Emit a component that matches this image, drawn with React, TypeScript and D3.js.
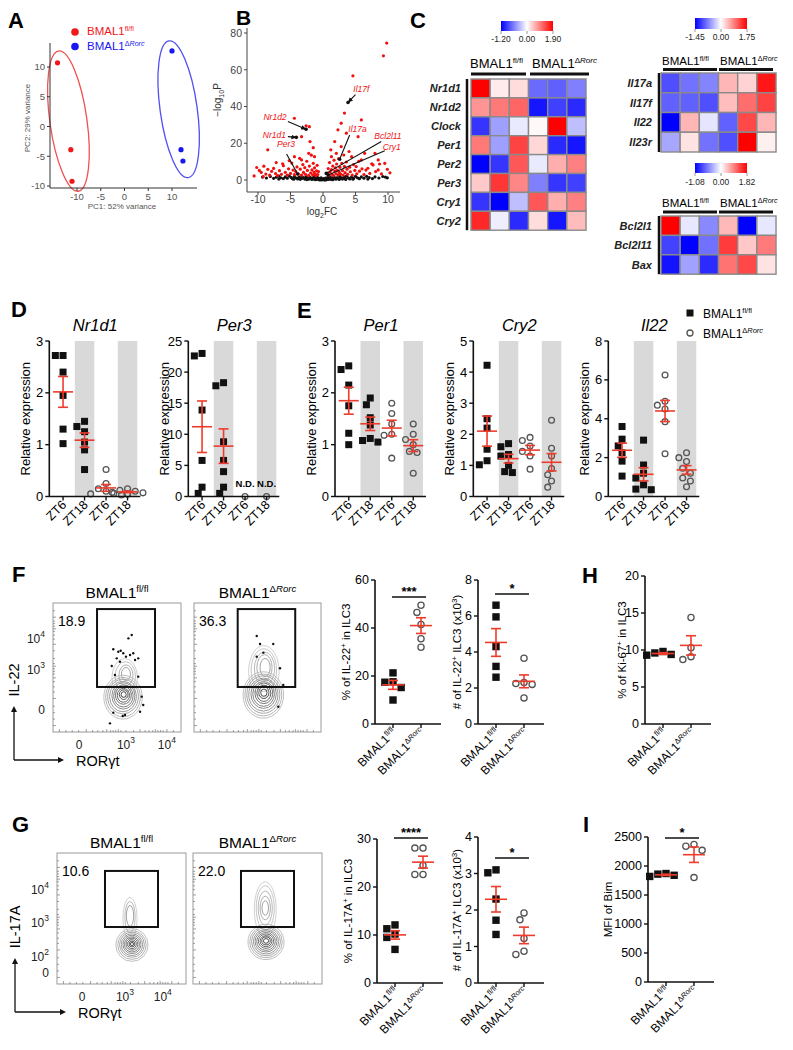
import React from "react";
import * as d3 from "d3";

const FONT = "Arial, 'Liberation Sans', Helvetica, sans-serif";
const RED = "#ee3b2b";
const BAND = "#d9d9d9";

/* ---------- A: PCA ---------- */
const pcaFl = [[-14.1, 10.7], [-11.3, -3.9], [-11.05, -9.2]];
const pcaKo = [[10.0, 12.7], [11.9, -3.9], [12.3, -5.8]];
const pcaTicks = [-10, -5, 0, 5, 10];
const pcaEllFl = [-11.8, 0.9, 3.9, 11.9];
const pcaEllKo = [11.4, 2.9, 3.9, 11.6];

/* ---------- B: volcano ---------- */
const volcanoRed = [
  [-10.2, 6.8], [-9.8, 5.2], [-9.5, 4.1], [-9.1, 7.5], [-8.8, 3.2], [-8.5, 5.8], [-8.2, 2.6], [-7.9, 4.7], [-7.6, 6.3], [-7.3, 3.5],
  [-7, 2.4], [-6.7, 5.1], [-6.4, 3.1], [-6.1, 7.8], [-5.8, 4.2], [-5.5, 2.7], [-5.3, 6.1], [-5, 3.6], [-4.8, 9.2], [-4.6, 5.4],
  [-4.4, 2.9], [-4.2, 4.6], [-4, 7.1], [-3.8, 3.3], [-3.6, 11.8], [-3.5, 5.9], [-3.3, 2.6], [-3.1, 8.4], [-3, 4.1], [-2.8, 6.7],
  [-2.7, 3.1], [-2.5, 10.2], [-2.4, 5.2], [-2.2, 2.5], [-2.1, 7.6], [-1.9, 3.8], [-1.8, 13.5], [-1.7, 5.5], [-1.6, 2.8], [-1.5, 9.1],
  [-1.4, 4.3], [-1.3, 6.6], [-1.2, 3.4], [-1.1, 2.4], [-1.0, 5.0], [-0.9, 8.0], [-0.8, 3.0], [-0.7, 4.6],
  [-8.5, 16.4], [-4.4, 33.6], [-2.6, 29.5], [-2.1, 29.0], [-3.3, 23.6], [-2.0, 20.9], [-4.4, 12.7], [-3.3, 10.9], [-1.3, 12.7],
  [-2.2, 14.5], [-1.5, 17.6], [-5.2, 10.5], [-6.2, 8.8], [-7.2, 9.5], [-10.6, 2.2], [-9.2, 1.8],
  [0.7, 3.8], [0.8, 6.2], [0.9, 2.6], [1.0, 9.5], [1.1, 4.4], [1.2, 16.4], [1.3, 12.7], [1.3, 5.6], [1.4, 3.1], [1.5, 7.6],
  [1.6, 2.4], [1.7, 10.8], [1.8, 4.9], [1.8, 20.9], [1.9, 6.6], [2.0, 3.4], [2.05, 14.5], [2.1, 8.7], [2.2, 5.3], [2.3, 27.3],
  [2.3, 2.8], [2.4, 11.6], [2.5, 4.2], [2.6, 6.9], [2.7, 3.2], [2.8, 18.2], [2.8, 30.9], [2.9, 9.1], [3.0, 5.1], [3.1, 2.6],
  [3.2, 13.6], [3.3, 36.4], [3.3, 7.4], [3.4, 4.0], [3.6, 25.5], [3.6, 9.8], [3.7, 5.9], [3.8, 3.1], [4.0, 15.5], [4.1, 7.0],
  [4.2, 4.5], [4.4, 12.7], [4.5, 2.7], [4.6, 56.7], [4.7, 8.4], [4.9, 5.2], [5.1, 7.3], [5.2, 3.4], [5.4, 23.6], [5.5, 10.2],
  [5.6, 4.8], [5.9, 10.9], [5.9, 32.7], [6.0, 6.1], [6.3, 3.0], [6.4, 14.5], [6.6, 5.4], [6.9, 6.4], [7.2, 3.6], [7.5, 8.8],
  [7.7, 8.2], [8.0, 14.5], [8.1, 4.6], [8.5, 5.5], [8.5, 10.9], [8.7, 8.7], [9.0, 3.3], [9.3, 67.6], [9.5, 9.1], [9.8, 74.5],
  [9.9, 5.8], [10.3, 3.9]
];
const volcanoBlack = [
  [-9.3, 1.6], [-8.7, 1.1], [-8.1, 1.9], [-7.6, 0.9], [-7.2, 1.5], [-6.8, 2.1], [-6.5, 1.2], [-6.1, 0.8], [-5.8, 1.7], [-5.5, 1.0],
  [-5.2, 2.2], [-4.9, 1.4], [-4.7, 0.7], [-4.4, 1.8], [-4.1, 1.1], [-3.9, 0.6], [-3.7, 1.5], [-3.4, 2.0], [-3.2, 0.9], [-3.0, 1.3],
  [-2.8, 0.5], [-2.6, 1.7], [-2.4, 1.0], [-2.2, 0.4], [-2.0, 1.4], [-1.9, 0.8], [-1.7, 0.3], [-1.6, 1.2], [-1.4, 0.6], [-1.3, 1.9],
  [-1.1, 0.9], [-1.0, 0.3], [-0.9, 1.5], [-0.8, 0.6], [-0.7, 1.1], [-0.6, 0.2], [-0.5, 0.8], [-0.4, 0.4], [-0.3, 1.2], [-0.2, 0.1],
  [-0.1, 0.5], [0, 0.2], [0.1, 0.7], [0.2, 0.1], [0.3, 0.4], [0.4, 1.0], [0.5, 0.2], [0.6, 0.6], [0.7, 1.3], [0.8, 0.3],
  [0.9, 0.9], [1.0, 0.5], [1.1, 1.6], [1.2, 0.7], [1.3, 0.3], [1.4, 1.1], [1.6, 0.6], [1.7, 1.8], [1.9, 0.9], [2.0, 0.4],
  [2.2, 1.3], [2.4, 0.7], [2.6, 1.9], [2.8, 1.0], [3.0, 0.5], [3.2, 1.5], [3.4, 0.8], [3.6, 2.1], [3.9, 1.2], [4.1, 0.6],
  [4.4, 1.6], [4.7, 0.9], [5.0, 2.0], [5.3, 1.2], [5.6, 0.7], [5.9, 1.7], [6.3, 1.0], [6.7, 2.0], [7.1, 1.3], [7.6, 0.8],
  [8.0, 1.7], [8.6, 1.1], [9.2, 1.9], [9.6, 1.6], [9.9, 1.2], [-0.45, 0.05], [0.35, 0.05], [-1.2, 0.15], [1.5, 0.2], [-2.5, 0.25],
  [2.5, 0.3], [-3.5, 0.35], [3.5, 0.3], [-4.5, 0.4], [4.6, 0.4], [-6.8, 0.5], [6.9, 0.5]
];
const volcanoXTicks = [-10, -5, 0, 5, 10];
const volcanoYTicks = [0, 20, 40, 60, 80];
const volcanoGenes = ["Il17f", "Nr1d2", "Nr1d1", "Per3", "Il17a", "Bcl2l11", "Cry1"];
const volcanoGenePts = [[3.85, 42.2], [-2.6, 27.6], [-4.1, 23.2], [-3.9, 3.3], [2.56, 11.3], [0.5, 3.6], [0.8, 2.7]];
const volcanoLabelPts = [[4.66, 48.0], [-5.6, 32.7], [-5.7, 22.7], [-4.3, 18.1], [3.9, 26.3], [7.9, 22.1], [9.2, 16.3]];
const volcanoLineFrom = [[5.0, 46.4], [-5.4, 31.8], [-5.4, 23.6], [-5.6, 14.1], [4.1, 24.5], [8.97, 20.9], [9.5, 15.9]];
const volcanoArrow = [true, true, true, false, false, false, false];

/* ---------- C: heatmaps ---------- */
const hm1Rows = ["Nr1d1", "Nr1d2", "Clock", "Per1", "Per2", "Per3", "Cry1", "Cry2"];
const hm1Vals = [
  [1.9, 0.15, 0.25, -0.7, -0.75, -0.6],
  [0.8, 1.0, 1.15, -1.1, -0.9, -1.0],
  [-0.95, -0.45, -0.1, 0.05, 1.9, -0.3],
  [1.0, -0.45, 1.4, 0.3, -1.0, -1.1],
  [-1.2, -0.95, 1.25, -0.1, 0.6, 0.95],
  [0.4, 1.5, 0.9, -0.6, -0.95, -0.9],
  [-0.95, -1.2, -0.3, 1.25, 0.6, 0.95],
  [1.6, -0.08, -1.0, 0.25, -1.1, 0.5]
];
const hm1Range = [-1.2, 1.9];
const hm2Rows = ["Il17a", "Il17f", "Il22", "Il23r"];
const hm2Vals = [
  [-1.0, -0.8, -0.7, 0.5, 0.3, 1.6],
  [-0.9, -0.9, -1.0, 0.45, 1.0, 1.3],
  [-1.45, 0.5, -0.15, -0.9, 1.25, 0.5],
  [-0.5, 0.2, -0.8, -1.0, 1.75, 0.1]
];
const hm2Range = [-1.45, 1.75];
const hm3Rows = ["Bcl2l1", "Bcl2l11", "Bax"];
const hm3Vals = [
  [1.82, -0.1, -0.5, 0.5, -1.08, -0.1],
  [-0.8, -1.08, -0.6, 1.4, 0.4, 0.95],
  [-1.0, -0.4, -0.9, 1.0, 1.3, 0.2]
];
const hm3Range = [-1.08, 1.82];

/* ---------- D / E: qPCR ---------- */
const ztCats = ["ZT6", "ZT18", "ZT6", "ZT18"];
const nr1d1Vals = [[2.72, 2.72, 2.4, 1.95, 1.3, 1.02], [1.45, 1.35, 1.25, 1.05, 0.9, 0.52], [0.52, 0.25, 0.15, 0.1, 0.06, 0.05, 0.03], [0.15, 0.12, 0.1, 0.08, 0.07, 0.05, 0.05]];
const per3Vals = [[22.6, 23, 13.9, 5.8, 1.5, 0.5], [18.3, 17.8, 8.8, 5.8, 4, 1.5, 0.5], [0], [0]];
const per1Vals = [[2.45, 2.52, 2.15, 1.75, 1.22, 1.0], [1.9, 1.77, 1.52, 1.38, 1.12, 1.08, 1.05], [1.8, 1.6, 1.4, 1.2, 1.18, 0.74], [1.4, 1.2, 1.1, 1.0, 0.87, 0.85, 0.45]];
const cry2Vals = [[4.22, 2.5, 2.2, 1.52, 1.15, 1.02], [1.7, 1.6, 1.35, 1.3, 1.0, 0.8, 0.77], [1.9, 1.8, 1.62, 1.45, 1.3, 0.88], [2.45, 1.55, 1.3, 0.9, 0.7, 0.5, 0.3]];
const il22Vals = [[3.6, 2.95, 2.6, 2.25, 1.82, 1.05], [2.9, 1.62, 1.2, 0.95, 0.6, 0.38, 0.35], [6.25, 4.9, 4.7, 4.5, 3.85, 2.2], [2.25, 2.0, 1.8, 1.45, 1.2, 0.95, 0.8, 0.5]];

/* ---------- F / G: flow ---------- */
const flowF1Main = [[54.7, 27, 15, 17], [54.7, 27, 13.5, 15.2], [54.7, 27.5, 12, 13.5], [54.7, 27.5, 10.5, 11.8], [55, 28, 9, 10.2], [55, 28, 7.6, 8.6], [55, 28.5, 6.2, 7], [55, 28.5, 4.8, 5.4], [55.2, 29, 3.4, 3.8], [55.2, 29, 2, 2.2]];
const flowF1Lobe = [[56, 42, 10, 15], [56.5, 43, 8, 11.5], [57, 44, 5.5, 8], [57, 45, 3.5, 5]];
const flowF1Dots = [[58.9, 72.6], [61.5, 75.2], [47.1, 64.1], [51.0, 62.2], [52.9, 63.0], [54.9, 61.0], [57.0, 58.4], [49.8, 57.1], [60.2, 59.7], [62.7, 61], [66.6, 57.1], [52.3, 54.5], [64.1, 55.8], [45.9, 51.2], [48.4, 44.2], [69.3, 27.4], [70.5, 20.9], [47.1, 15], [56.3, 13.2], [54.5, 12.4], [68, 15.7], [44.5, 6.7], [66.6, 42.9]];
const flowF2Main = [[54.6, 28.7, 16, 18], [54.6, 28.7, 14.5, 16.2], [54.6, 29, 13, 14.5], [54.6, 29, 11.5, 12.8], [54.8, 29.5, 10, 11.2], [54.8, 29.5, 8.5, 9.6], [55, 30, 7, 8], [55, 30, 5.5, 6.3], [55, 30.5, 4, 4.6], [55, 30.5, 2.5, 2.8]];
const flowF2Lobe = [[55, 47, 12, 20], [55, 48, 10, 16.5], [55.5, 49, 8, 13], [55.5, 50, 6, 10], [56, 50, 4, 7]];
const flowF2Dots = [[49.4, 74.4], [52, 68.2], [62.4, 68.2], [54.6, 61.5], [49.4, 58.4], [67.7, 49.4], [70.3, 36.4], [66.4, 19.6]];
const flowG1Main = [[58.1, 29.8, 12.5, 12.5], [58.1, 29.8, 11, 11], [58.1, 30, 9.6, 9.6], [58.1, 30, 8.3, 8.3], [58.1, 30.2, 7, 7], [58.1, 30.2, 5.8, 5.8], [58.1, 30.4, 4.6, 4.6], [58.1, 30.4, 3.4, 3.4], [58.1, 30.5, 2.2, 2.2], [58.1, 30.5, 1.2, 1.2]];
const flowG1Lobe = [[56.6, 50, 5.5, 16], [56.6, 51, 4, 12], [56.6, 52, 2.8, 8]];
const flowG2Main = [[56.6, 32.1, 14, 13.5], [56.6, 32.1, 12.6, 12.1], [56.6, 32.3, 11.2, 10.8], [56.6, 32.3, 9.8, 9.4], [56.6, 32.5, 8.5, 8.1], [56.6, 32.5, 7.2, 6.8], [56.6, 32.7, 5.9, 5.5], [56.6, 32.7, 4.6, 4.2], [56.6, 32.9, 3.3, 3], [56.6, 32.9, 2, 1.8]];
const flowG2Lobe = [[56, 57, 8.5, 21], [56, 58, 7, 17], [56, 58, 5.5, 13], [56, 58, 4, 9], [56, 58, 2.5, 5.5]];
const gateF = [34.4, 79.7, 34.9, 95.3];
const gateG = [37.2, 78.3, 43.5, 86.3];
const pctF = ["18.9", "36.3"];
const pctG = ["10.6", "22.0"];
const flowFYTicks = [{ u: 72, b: "10", e: "4" }, { u: 48, b: "10", e: "3" }, { u: 17, b: "0", e: "" }];
const flowFXTicks = [{ u: 20.3, b: "0", e: "" }, { u: 57, b: "10", e: "3" }, { u: 89, b: "10", e: "4" }];
const flowGYTicks = [{ u: 71.8, b: "10", e: "4" }, { u: 46.6, b: "10", e: "3" }, { u: 20.6, b: "10", e: "2" }, { u: 8.4, b: "0", e: "" }];
const flowGXTicks = [{ u: 19.4, b: "0", e: "" }, { u: 52.7, b: "10", e: "3" }, { u: 82, b: "10", e: "4" }];
const flowMinorTicks = [5, 10, 15, 20, 26, 31, 35, 39, 42, 45, 47, 49, 51, 53, 57, 63, 68, 72, 75, 78, 80, 82, 84, 86, 89, 94];

/* ---------- F-I: summary dot plots ---------- */
const il22PctVals = [[21.3, 17.6, 17.4, 15.2, 10], [49.5, 46.5, 41.5, 35.5, 32]];
const il22NumVals = [[6.6, 5.95, 4.3, 3.2, 2.6], [3.65, 2.3, 2.25, 2.2, 1.45]];
const ki67PctVals = [[9.8, 9.6, 9.4, 9.3], [14.4, 10.3, 9.1, 8.7]];
const il17aPctVals = [[12.1, 11.3, 10.2, 9.5, 7], [28.1, 28.1, 24.5, 22.6, 22.6]];
const il17aNumVals = [[3.1, 3.02, 2.3, 1.72, 1.33], [1.92, 1.73, 1.22, 0.87, 0.78]];
const bimMfiVals = [[1870, 1860, 1840, 1820], [2370, 2340, 2270, 1800]];

/* ---------- helpers ---------- */
const supFl = (fs: number) => <tspan dy={-fs * 0.38} fontSize={fs * 0.62}>fl/fl</tspan>;
const supKo = (fs: number) => (
  <>
    <tspan dy={-fs * 0.38} fontSize={fs * 0.62}>Δ</tspan>
    <tspan fontSize={fs * 0.62} fontStyle="italic">Rorc</tspan>
  </>
);

function meanSem(v: number[]) {
  const m = d3.mean(v) as number;
  const sd = v.length > 1 ? (d3.deviation(v) as number) : 0;
  return { m, s: sd / Math.sqrt(v.length) };
}

function swarm(vals: number[], ys: (v: number) => number, cx: number, size: number) {
  const order = vals.map((v, i) => ({ v, i, y: ys(v) })).sort((a, b) => b.v - a.v);
  const placed: { x: number; y: number }[] = [];
  const out: { x: number; y: number }[] = new Array(vals.length);
  const offs = [0, -0.55, 0.55, -1.1, 1.1, -1.65, 1.65, -2.2, 2.2];
  for (const p of order) {
    let chosen = cx;
    for (const k of offs) {
      const x = cx + k * size;
      if (placed.every((q) => Math.hypot(q.x - x, q.y - p.y) >= size * 0.98)) {
        chosen = x;
        break;
      }
    }
    placed.push({ x: chosen, y: p.y });
    out[p.i] = { x: chosen, y: p.y };
  }
  return out;
}

function Marker({ x, y, kind, size }: { x: number; y: number; kind: number; size: number }) {
  if (kind === 0) return <rect x={x - size / 2} y={y - size / 2} width={size} height={size} fill="#111" />;
  return <circle cx={x} cy={y} r={size / 2 - 0.6} fill="none" stroke="#555" strokeWidth={1.3} />;
}

function MeanBar({ cx, y, m, s, hw, cw }: any) {
  return (
    <g stroke={RED} strokeWidth={1.6}>
      <line x1={cx - hw} x2={cx + hw} y1={y(m)} y2={y(m)} />
      <line x1={cx} x2={cx} y1={y(m - s)} y2={y(m + s)} />
      <line x1={cx - cw} x2={cx + cw} y1={y(m - s)} y2={y(m - s)} />
      <line x1={cx - cw} x2={cx + cw} y1={y(m + s)} y2={y(m + s)} />
    </g>
  );
}

/* ---------- Panel A ---------- */
function PanelA() {
  const x = d3.scaleLinear().domain([-10, 10]).range([77, 172]);
  const y = d3.scaleLinear().domain([-10, 10]).range([186, 67]);
  const kx = Math.abs(x(1) - x(0));
  const ky = Math.abs(y(1) - y(0));
  const ell = (e: number[], c: string) => (
    <ellipse cx={x(e[0])} cy={y(e[1])} rx={e[2] * kx} ry={e[3] * ky} transform={`rotate(-8 ${x(e[0])} ${y(e[1])})`} fill="none" stroke={c} strokeWidth={1.3} />
  );
  return (
    <g>
      <text x={8} y={28} fontSize={22} fontWeight="bold">A</text>
      <circle cx={75} cy={32} r={3.8} fill="#f01818" />
      <text x={87} y={35} fontSize={11.5} fill="#f01818">BMAL1{supFl(11.5)}</text>
      <circle cx={75} cy={46.5} r={3.8} fill="#1818f0" />
      <text x={87} y={50} fontSize={11.5} fill="#1818f0">BMAL1{supKo(11.5)}</text>
      {ell(pcaEllFl, "#f25050")}
      {ell(pcaEllKo, "#5050f2")}
      {pcaFl.map((p, i) => <circle key={"f" + i} cx={x(p[0])} cy={y(p[1])} r={2.6} fill="#f01818" />)}
      {pcaKo.map((p, i) => <circle key={"k" + i} cx={x(p[0])} cy={y(p[1])} r={2.6} fill="#1818f0" />)}
      <line x1={50} x2={50} y1={43} y2={188} stroke="#333" strokeWidth={1} />
      <line x1={50} x2={197} y1={188} y2={188} stroke="#333" strokeWidth={1} />
      {pcaTicks.map((t) => (
        <g key={"y" + t}>
          <line x1={47} x2={50} y1={y(t)} y2={y(t)} stroke="#333" />
          <text x={45} y={y(t) + 3.3} fontSize={9.5} textAnchor="end" fill="#555">{t}</text>
        </g>
      ))}
      {pcaTicks.map((t) => (
        <g key={"x" + t}>
          <line x1={x(t)} x2={x(t)} y1={188} y2={191} stroke="#333" />
          <text x={x(t)} y={200} fontSize={9.5} textAnchor="middle" fill="#555">{t}</text>
        </g>
      ))}
      <text transform="translate(30,118) rotate(-90)" fontSize={8} textAnchor="middle" fill="#555">PC2: 29% variance</text>
      <text x={122} y={209} fontSize={8} textAnchor="middle" fill="#555">PC1: 52% variance</text>
    </g>
  );
}

/* ---------- Panel B ---------- */
function PanelB() {
  const x = d3.scaleLinear().domain([-10, 10]).range([258, 388]);
  const y = d3.scaleLinear().domain([0, 80]).range([180, 33]);
  return (
    <g>
      <defs>
        <marker id="arr" viewBox="0 0 10 10" refX="9" refY="5" markerWidth="5" markerHeight="5" orient="auto">
          <path d="M0,1 L10,5 L0,9 z" fill="#111" />
        </marker>
      </defs>
      <text x={236} y={25} fontSize={21} fontWeight="bold">B</text>
      {volcanoBlack.map((p, i) => <circle key={"b" + i} cx={x(p[0])} cy={y(p[1])} r={1.6} fill="#111" />)}
      {volcanoRed.map((p, i) => <circle key={"r" + i} cx={x(p[0])} cy={y(p[1])} r={1.6} fill="#f01010" />)}
      {volcanoGenes.map((g, i) => {
        const lp = volcanoLabelPts[i];
        const fp = volcanoLineFrom[i];
        const gp = volcanoGenePts[i];
        return (
          <g key={g}>
            <circle cx={x(gp[0])} cy={y(gp[1])} r={1.8} fill="#111" />
            <line x1={x(fp[0])} y1={y(fp[1])} x2={x(gp[0])} y2={y(gp[1])} stroke="#111" strokeWidth={1.1} markerEnd={volcanoArrow[i] ? "url(#arr)" : undefined} />
            <text x={x(lp[0])} y={y(lp[1])} fontSize={8.5} fontStyle="italic" fill="#f01010" textAnchor={lp[0] < 0 ? "end" : "start"}>{g}</text>
          </g>
        );
      })}
      <line x1={247} x2={247} y1={28} y2={192} stroke="#444" />
      <line x1={247} x2={400} y1={192} y2={192} stroke="#444" />
      {volcanoYTicks.map((t) => (
        <g key={"y" + t}>
          <line x1={244} x2={247} y1={y(t)} y2={y(t)} stroke="#444" />
          <text x={242} y={y(t) + 3.8} fontSize={10.5} textAnchor="end" fill="#444">{t}</text>
        </g>
      ))}
      {volcanoXTicks.map((t) => (
        <g key={"x" + t}>
          <line x1={x(t)} x2={x(t)} y1={192} y2={195} stroke="#444" />
          <text x={x(t)} y={203} fontSize={10.5} textAnchor="middle" fill="#444">{t}</text>
        </g>
      ))}
      <text transform="translate(221,100) rotate(-90)" fontSize={10} textAnchor="middle" fill="#333">
        −log<tspan dy={3} fontSize={7}>10</tspan><tspan dy={-3}>P</tspan>
      </text>
      <text x={322} y={215} fontSize={10} textAnchor="middle" fill="#333">
        log<tspan dy={3} fontSize={7}>2</tspan><tspan dy={-3}>FC</tspan>
      </text>
    </g>
  );
}

/* ---------- Panel C ---------- */
function Heatmap({ id, rows, vals, range, x0, y0, cw, ch, cb, hdr, ul, barX, labelX, hdrFs }: any) {
  const color = d3.scaleLinear<string>().domain([range[0], 0, range[1]]).range(["#0000ff", "#ffffff", "#ff0000"]);
  const nC = vals[0].length;
  const gx = d3.scaleBand().domain(d3.range(nC).map(String)).range([x0, x0 + cw * nC]);
  const gy = d3.scaleBand().domain(rows).range([y0, y0 + ch * rows.length]);
  return (
    <g>
      <defs>
        <linearGradient id={id} x1="0" x2="1" y1="0" y2="0">
          <stop offset="0" stopColor="#0000ff" />
          <stop offset="0.5" stopColor="#ffffff" />
          <stop offset="1" stopColor="#ff0000" />
        </linearGradient>
      </defs>
      <rect x={cb[0]} y={cb[1]} width={cb[2]} height={cb[3]} fill={`url(#${id})`} />
      {[range[0], 0, range[1]].map((v: number, i: number) => (
        <g key={i}>
          <line x1={cb[0] + (cb[2] * i) / 2} x2={cb[0] + (cb[2] * i) / 2} y1={cb[1] + cb[3]} y2={cb[1] + cb[3] + 3} stroke="#555" strokeWidth={0.6} />
          <text x={cb[0] + (cb[2] * i) / 2} y={cb[4]} fontSize={8.5} textAnchor="middle" fill="#222">{v.toFixed(2)}</text>
        </g>
      ))}
      <text x={hdr[0]} y={hdr[2]} fontSize={hdrFs}>BMAL1{supFl(hdrFs)}</text>
      <text x={hdr[1]} y={hdr[2]} fontSize={hdrFs}>BMAL1{supKo(hdrFs)}</text>
      <line x1={ul[0]} x2={ul[1]} y1={ul[4]} y2={ul[4]} stroke="#111" strokeWidth={3} />
      <line x1={ul[2]} x2={ul[3]} y1={ul[4]} y2={ul[4]} stroke="#111" strokeWidth={3} />
      <line x1={barX} x2={barX} y1={y0} y2={y0 + ch * rows.length} stroke="#111" strokeWidth={2.5} />
      {rows.map((r: string, i: number) => (
        <g key={r}>
          <text x={labelX} y={(gy(r) as number) + ch / 2 + 4} fontSize={11} fontStyle="italic" fontWeight="bold" textAnchor="end" fill="#222">{r}</text>
          {vals[i].map((v: number, j: number) => (
            <rect key={j} x={gx(String(j))} y={gy(r)} width={gx.bandwidth()} height={gy.bandwidth()} fill={color(v)} stroke="#8a8a8a" strokeWidth={1.4} />
          ))}
        </g>
      ))}
    </g>
  );
}

function PanelC() {
  return (
    <g>
      <text x={410} y={28} fontSize={22} fontWeight="bold">C</text>
      <Heatmap id="g1" rows={hm1Rows} vals={hm1Vals} range={hm1Range} x0={471} y0={79} cw={19.17} ch={18.9}
        cb={[501, 21, 52, 10, 42]} hdr={[470, 532, 68]} ul={[471, 526, 530, 589, 74]} barX={467} labelX={461} hdrFs={13} />
      <Heatmap id="g2" rows={hm2Rows} vals={hm2Vals} range={hm2Range} x0={661} y0={73} cw={19.17} ch={19.75}
        cb={[695, 18, 52, 11, 40]} hdr={[662, 720, 65]} ul={[663, 717, 719, 773, 69.5]} barX={659} labelX={652} hdrFs={11.5} />
      <Heatmap id="g3" rows={hm3Rows} vals={hm3Vals} range={hm3Range} x0={661} y0={216} cw={19.17} ch={19.4}
        cb={[695, 163, 52, 10, 185]} hdr={[662, 720, 207]} ul={[663, 717, 719, 773, 212]} barX={659} labelX={652} hdrFs={11.5} />
    </g>
  );
}

/* ---------- Panels D / E ---------- */
function ZTPanel({ ax, title, yMax, ticks, vals, nd }: any) {
  const top = 341, bottom = 496.5;
  const y = d3.scaleLinear().domain([0, yMax]).range([bottom, top]);
  const x = d3.scaleBand().domain(["0", "1", "2", "3"]).range([ax + 3, ax + 89]);
  const size = 7;
  return (
    <g>
      {[1, 3].map((i) => (
        <rect key={i} x={(x(String(i)) as number) + 1} y={top} width={x.bandwidth() - 2} height={bottom - top} fill={BAND} />
      ))}
      <text x={ax + 46} y={331} fontSize={16.5} fontStyle="italic" textAnchor="middle">{title}</text>
      {vals.map((v: number[], gi: number) => {
        const cx = (x(String(gi)) as number) + x.bandwidth() / 2;
        const pos = swarm(v, y, cx, size);
        const ms = meanSem(v);
        return (
          <g key={gi}>
            {pos.map((p, i) => <Marker key={i} x={p.x} y={p.y} kind={gi < 2 ? 0 : 1} size={size} />)}
            {nd && gi >= 2 ? (
              <text x={cx} y={487} fontSize={9.5} fontWeight="bold" textAnchor="middle">N.D.</text>
            ) : (
              <MeanBar cx={cx} y={y} m={ms.m} s={ms.s} hw={10} cw={5} />
            )}
          </g>
        );
      })}
      <line x1={ax} x2={ax} y1={top} y2={bottom} stroke="#111" strokeWidth={1.6} />
      <line x1={ax} x2={ax + 91} y1={bottom} y2={bottom} stroke="#111" strokeWidth={1.6} />
      {ticks.map((t: number) => (
        <g key={t}>
          <line x1={ax - 4} x2={ax} y1={y(t)} y2={y(t)} stroke="#111" strokeWidth={1.4} />
          <text x={ax - 6} y={y(t) + 4.5} fontSize={13} textAnchor="end">{t}</text>
        </g>
      ))}
      {ztCats.map((c, i) => {
        const cx = (x(String(i)) as number) + x.bandwidth() / 2;
        return (
          <g key={i}>
            <line x1={cx} x2={cx} y1={bottom} y2={bottom + 4} stroke="#111" strokeWidth={1.4} />
            <text transform={`translate(${cx + 4},${bottom + 9}) rotate(-45)`} fontSize={12.5} textAnchor="end">{c}</text>
          </g>
        );
      })}
      <text transform={`translate(${ax - 19},${(top + bottom) / 2}) rotate(-90)`} fontSize={13} textAnchor="middle">Relative expression</text>
    </g>
  );
}

function PanelsDE() {
  return (
    <g>
      <text x={11} y={317} fontSize={22} fontWeight="bold">D</text>
      <text x={297} y={318} fontSize={22} fontWeight="bold">E</text>
      <ZTPanel ax={49.3} title="Nr1d1" yMax={3} ticks={[0, 1, 2, 3]} vals={nr1d1Vals} />
      <ZTPanel ax={188.3} title="Per3" yMax={25} ticks={[0, 5, 10, 15, 20, 25]} vals={per3Vals} nd />
      <ZTPanel ax={335} title="Per1" yMax={3} ticks={[0, 1, 2, 3]} vals={per1Vals} />
      <ZTPanel ax={473.3} title="Cry2" yMax={5} ticks={[0, 1, 2, 3, 4, 5]} vals={cry2Vals} />
      <ZTPanel ax={608.3} title="Il22" yMax={8} ticks={[0, 2, 4, 6, 8]} vals={il22Vals} />
      <rect x={686.5} y={309.5} width={7} height={7} fill="#111" />
      <text x={703} y={318} fontSize={12}>BMAL1{supFl(12)}</text>
      <circle cx={690} cy={333} r={3} fill="none" stroke="#555" strokeWidth={1.3} />
      <text x={703} y={338} fontSize={12}>BMAL1{supKo(12)}</text>
    </g>
  );
}

/* ---------- Flow plots ---------- */
function FlowPlot({ x0, y0, w, h, main, lobe, dots, gate, pct, xTicks, yTicks, title }: any) {
  const x = d3.scaleLinear().domain([0, 100]).range([x0, x0 + w]);
  const y = d3.scaleLinear().domain([0, 100]).range([y0 + h, y0]);
  const kx = w / 100, ky = h / 100;
  const mainCol = d3.interpolateRgb("#b8b8b8", "#3a3a3a");
  const lobeCol = d3.interpolateRgb("#c4c4c4", "#8a8a8a");
  return (
    <g>
      <text x={x0 + w / 2} y={y0 - 5} fontSize={15.5} textAnchor="middle">{title}</text>
      <rect x={x0} y={y0} width={w} height={h} fill="none" stroke="#9a9a9a" strokeWidth={1} />
      {flowMinorTicks.map((u, i) => (
        <g key={i} stroke="#777" strokeWidth={0.7}>
          <line x1={x(u)} x2={x(u)} y1={y0 + h} y2={y0 + h - (i % 4 === 0 ? 3 : 2)} />
          <line x1={x0} x2={x0 + (i % 4 === 0 ? 3 : 2)} y1={y(u)} y2={y(u)} />
        </g>
      ))}
      {lobe.map((r: number[], i: number) => (
        <ellipse key={"l" + i} cx={x(r[0])} cy={y(r[1])} rx={r[2] * kx} ry={r[3] * ky} fill="none" stroke={lobeCol(i / Math.max(1, lobe.length - 1))} strokeWidth={0.8} />
      ))}
      {main.map((r: number[], i: number) => (
        <ellipse key={"m" + i} cx={x(r[0])} cy={y(r[1])} rx={r[2] * kx} ry={r[3] * ky} fill="none" stroke={mainCol(i / (main.length - 1))} strokeWidth={0.9} />
      ))}
      {dots.map((d: number[], i: number) => <circle key={"d" + i} cx={x(d[0])} cy={y(d[1])} r={1.2} fill="#111" />)}
      <rect x={x(gate[0])} y={y(gate[3])} width={x(gate[1]) - x(gate[0])} height={y(gate[2]) - y(gate[3])} fill="none" stroke="#111" strokeWidth={2} />
      <text x={x0 + 5} y={y0 + 23} fontSize={14}>{pct}</text>
      {yTicks && yTicks.map((t: any, i: number) => (
        <text key={"yt" + i} x={x0 - 8} y={y(t.u) + 4} fontSize={12} textAnchor="end" fill="#222">
          {t.b}{t.e ? <tspan dy={-6} fontSize={8.5}>{t.e}</tspan> : null}
        </text>
      ))}
      {xTicks && xTicks.map((t: any, i: number) => (
        <text key={"xt" + i} x={x(t.u)} y={y0 + h + 17} fontSize={12} textAnchor="middle" fill="#222">
          {t.b}{t.e ? <tspan dy={-6} fontSize={8.5}>{t.e}</tspan> : null}
        </text>
      ))}
    </g>
  );
}

function AxisArrows({ x, yTop, yBot, xRight, yLab, yLabCenter, xLabY }: any) {
  return (
    <g>
      <line x1={x} x2={x} y1={yBot} y2={yTop + 4} stroke="#111" strokeWidth={1.3} />
      <path d={`M${x - 3},${yTop + 6} L${x},${yTop} L${x + 3},${yTop + 6} z`} fill="#111" />
      <line x1={x} x2={xRight - 4} y1={yBot} y2={yBot} stroke="#111" strokeWidth={1.3} />
      <path d={`M${xRight - 6},${yBot - 3} L${xRight},${yBot} L${xRight - 6},${yBot + 3} z`} fill="#111" />
      <text transform={`translate(${x + 5},${yLabCenter}) rotate(-90)`} fontSize={14.5} textAnchor="middle">{yLab}</text>
      <text x={xRight + 12} y={xLabY} fontSize={14.5}>RORγt</text>
    </g>
  );
}

/* ---------- dot plots ---------- */
function DotPlot({ ax, top, bottom, yMax, ticks, vals, label, labX, sig, sigY }: any) {
  const y = d3.scaleLinear().domain([0, yMax]).range([bottom, top]);
  const x = d3.scaleBand().domain(["0", "1"]).range([ax + 4, ax + 60]);
  const size = 7.4;
  const c0 = (x("0") as number) + x.bandwidth() / 2;
  const c1 = (x("1") as number) + x.bandwidth() / 2;
  return (
    <g>
      {vals.map((v: number[], gi: number) => {
        const cx = gi === 0 ? c0 : c1;
        const pos = swarm(v, y, cx, size);
        const ms = meanSem(v);
        return (
          <g key={gi}>
            {pos.map((p, i) => <Marker key={i} x={p.x} y={p.y} kind={gi} size={size} />)}
            <MeanBar cx={cx} y={y} m={ms.m} s={ms.s} hw={11} cw={5} />
          </g>
        );
      })}
      <line x1={ax} x2={ax} y1={top} y2={bottom} stroke="#111" strokeWidth={1.6} />
      <line x1={ax} x2={ax + 66} y1={bottom} y2={bottom} stroke="#111" strokeWidth={1.6} />
      {ticks.map((t: number) => (
        <g key={t}>
          <line x1={ax - 4} x2={ax} y1={y(t)} y2={y(t)} stroke="#111" strokeWidth={1.4} />
          <text x={ax - 6} y={y(t) + 4.3} fontSize={12.5} textAnchor="end">{t}</text>
        </g>
      ))}
      {[c0, c1].map((cx, i) => (
        <g key={i}>
          <line x1={cx} x2={cx} y1={bottom} y2={bottom + 4} stroke="#111" strokeWidth={1.4} />
          <text transform={`translate(${cx + 4},${bottom + 9}) rotate(-45)`} fontSize={12} textAnchor="end">
            BMAL1{i === 0 ? supFl(12) : supKo(12)}
          </text>
        </g>
      ))}
      <text transform={`translate(${labX},${(top + bottom) / 2}) rotate(-90)`} fontSize={11.5} textAnchor="middle">{label}</text>
      {sig ? (
        <g>
          <line x1={c0 - 1} x2={c1 + 5} y1={sigY} y2={sigY} stroke="#111" strokeWidth={1.4} />
          <text x={(c0 + c1 + 4) / 2} y={sigY - 1} fontSize={13} textAnchor="middle" fontWeight="bold">{sig}</text>
        </g>
      ) : null}
    </g>
  );
}

const plus = <tspan dy={-4} fontSize={8}>+</tspan>;

function PanelsFGHI() {
  return (
    <g>
      <text x={12} y={582} fontSize={22} fontWeight="bold">F</text>
      <text x={582} y={583} fontSize={22} fontWeight="bold">H</text>
      <text x={12} y={832} fontSize={22} fontWeight="bold">G</text>
      <text x={583} y={832} fontSize={22} fontWeight="bold">I</text>

      <FlowPlot x0={53} y0={603} w={128} h={129} main={flowF1Main} lobe={flowF1Lobe} dots={flowF1Dots} gate={gateF} pct={pctF[0]}
        xTicks={flowFXTicks} yTicks={flowFYTicks} title={<>BMAL1{supFl(15.5)}</>} />
      <FlowPlot x0={194} y0={603} w={127} h={129} main={flowF2Main} lobe={flowF2Lobe} dots={flowF2Dots} gate={gateF} pct={pctF[1]}
        title={<>BMAL1{supKo(15.5)}</>} />
      <AxisArrows x={14} yTop={706} yBot={760} xRight={64} yLab="IL-22" yLabCenter={680} xLabY={766} />

      <FlowPlot x0={57} y0={853} w={129} h={131} main={flowG1Main} lobe={flowG1Lobe} dots={[]} gate={gateG} pct={pctG[0]}
        xTicks={flowGXTicks} yTicks={flowGYTicks} title={<>BMAL1{supFl(15.5)}</>} />
      <FlowPlot x0={193} y0={853} w={129} h={131} main={flowG2Main} lobe={flowG2Lobe} dots={[]} gate={gateG} pct={pctG[1]}
        title={<>BMAL1{supKo(15.5)}</>} />
      <AxisArrows x={15} yTop={958} yBot={1012} xRight={66} yLab="IL-17A" yLabCenter={927} xLabY={1018} />

      <DotPlot ax={375} top={580} bottom={724} yMax={60} ticks={[0, 20, 40, 60]} vals={il22PctVals}
        label={<>% of IL-22{plus}<tspan dy={4}> in ILC3</tspan></>} labX={350} sig="***" sigY={597} />
      <DotPlot ax={478} top={580} bottom={724} yMax={8} ticks={[0, 2, 4, 6, 8]} vals={il22NumVals}
        label={<># of IL-22{plus}<tspan dy={4}> ILC3 (x10</tspan><tspan dy={-4} fontSize={8}>3</tspan><tspan dy={4}>)</tspan></>} labX={461} sig="*" sigY={594} />
      <DotPlot ax={645} top={576} bottom={724} yMax={20} ticks={[0, 5, 10, 15, 20]} vals={ki67PctVals}
        label={<>% of Ki-67{plus}<tspan dy={4}> in ILC3</tspan></>} labX={626} />
      <DotPlot ax={377} top={839} bottom={983} yMax={30} ticks={[0, 10, 20, 30]} vals={il17aPctVals}
        label={<>% of IL-17A{plus}<tspan dy={4}> in ILC3</tspan></>} labX={352} sig="****" sigY={838} />
      <DotPlot ax={478} top={837} bottom={983} yMax={4} ticks={[0, 1, 2, 3, 4]} vals={il17aNumVals}
        label={<># of IL-17A{plus}<tspan dy={4}> ILC3 (x10</tspan><tspan dy={-4} fontSize={8}>3</tspan><tspan dy={4}>)</tspan></>} labX={461} sig="*" sigY={858} />
      <DotPlot ax={648} top={837} bottom={982} yMax={2500} ticks={[0, 500, 1000, 1500, 2000, 2500]} vals={bimMfiVals}
        label="MFI of Bim" labX={612} sig="*" sigY={838} />
    </g>
  );
}

export default function App() {
  return (
    <svg width={793} height={1050} viewBox="0 0 793 1050" fontFamily={FONT}
      style={{ position: "absolute", left: 0, top: 0, background: "#fff", display: "block" }}>
      <rect x={0} y={0} width={793} height={1050} fill="#fff" />
      <PanelA />
      <PanelB />
      <PanelC />
      <PanelsDE />
      <PanelsFGHI />
    </svg>
  );
}
